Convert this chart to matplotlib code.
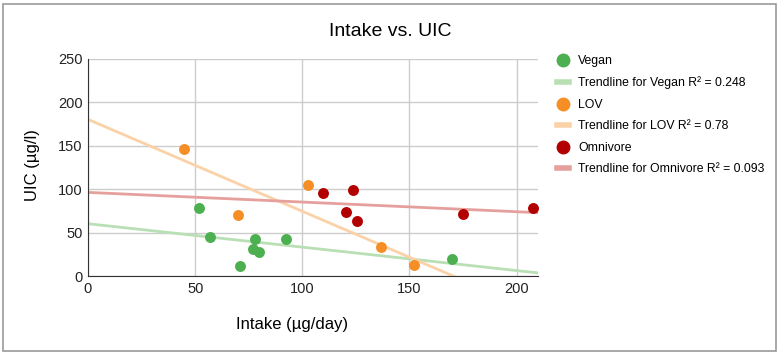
import numpy as np
import matplotlib
matplotlib.use("Agg")
import matplotlib.pyplot as plt
from matplotlib.lines import Line2D
from matplotlib.patches import Rectangle

plt.rcParams['font.family'] = ['Liberation Sans', 'DejaVu Sans']

# data
vegan_x = [52, 57, 78, 77, 80, 71, 92.5, 170]
vegan_y = [78, 45, 43, 31, 28, 11, 43, 20]
lov_x = [45, 70, 102.5, 136.5, 152]
lov_y = [146, 70, 104.5, 33, 13]
omni_x = [109.5, 123.5, 120.5, 125.5, 175, 207.5]
omni_y = [95.5, 99.5, 73.5, 63.5, 71.5, 78.5]
r2 = {"Vegan": "0.248", "LOV": "0.78", "Omnivore": "0.093"}

series = [("Vegan", vegan_x, vegan_y, "#4caf50", "#b9dfb4"),
          ("LOV", lov_x, lov_y, "#f58f25", "#fbd1a7"),
          ("Omnivore", omni_x, omni_y, "#b20000", "#e5a09d")]

fig = plt.figure(figsize=(7.83, 3.58), dpi=100)
ax = fig.add_axes([88/783, 1-276/358, 450/783, 217/358])

xx = np.array([0, 210])
handles = []
for name, x, y, c, lc in series:
    k, b = np.polyfit(x, y, 1)
    ax.plot(xx, k*xx + b, color=lc, lw=2, zorder=2)
    ax.scatter(x, y, s=62, color=c, zorder=3, linewidths=0)
    handles.append(Line2D([], [], marker='o', ls='', color=c, markersize=9))
    handles.append(Line2D([], [], color=lc, lw=4))

labels = []
for name, *_ in series:
    labels += [name, "Trendline for %s R\u00b2 = %s" % (name, r2[name])]

ax.set_xlim(0, 210)
ax.set_ylim(0, 250)
ax.set_xticks([0, 50, 100, 150, 200])
ax.set_yticks([0, 50, 100, 150, 200, 250])
ax.grid(color="#cccccc", lw=1)
ax.set_axisbelow(True)
for s in ["top", "right"]:
    ax.spines[s].set_visible(False)
ax.spines["left"].set_color("#333333")
ax.spines["bottom"].set_color("#333333")
ax.tick_params(length=0, labelsize=10.5, pad=4, colors="#222222")

fig.text(390/783, 1-32/358, "Intake vs. UIC", ha="center", va="center", fontsize=14)
fig.text(292/783, 1-325/358, "Intake (\u00b5g/day)", ha="center", va="center", fontsize=12)
fig.text(33/783, 1-165/358, "UIC (\u00b5g/l)", ha="center", va="center", fontsize=12, rotation=90)

fig.legend(handles, labels, loc="upper left", bbox_to_anchor=(546/783, 1-44/358),
           frameon=False, fontsize=8.8, handlelength=1.0, handletextpad=0.75,
           labelspacing=0.78)

fig.add_artist(Rectangle((3/783, 1-351/358), 773/783, 347/358, transform=fig.transFigure,
                         fill=False, ec="#999999", lw=1.2))

fig.savefig("out.png", dpi=100)
